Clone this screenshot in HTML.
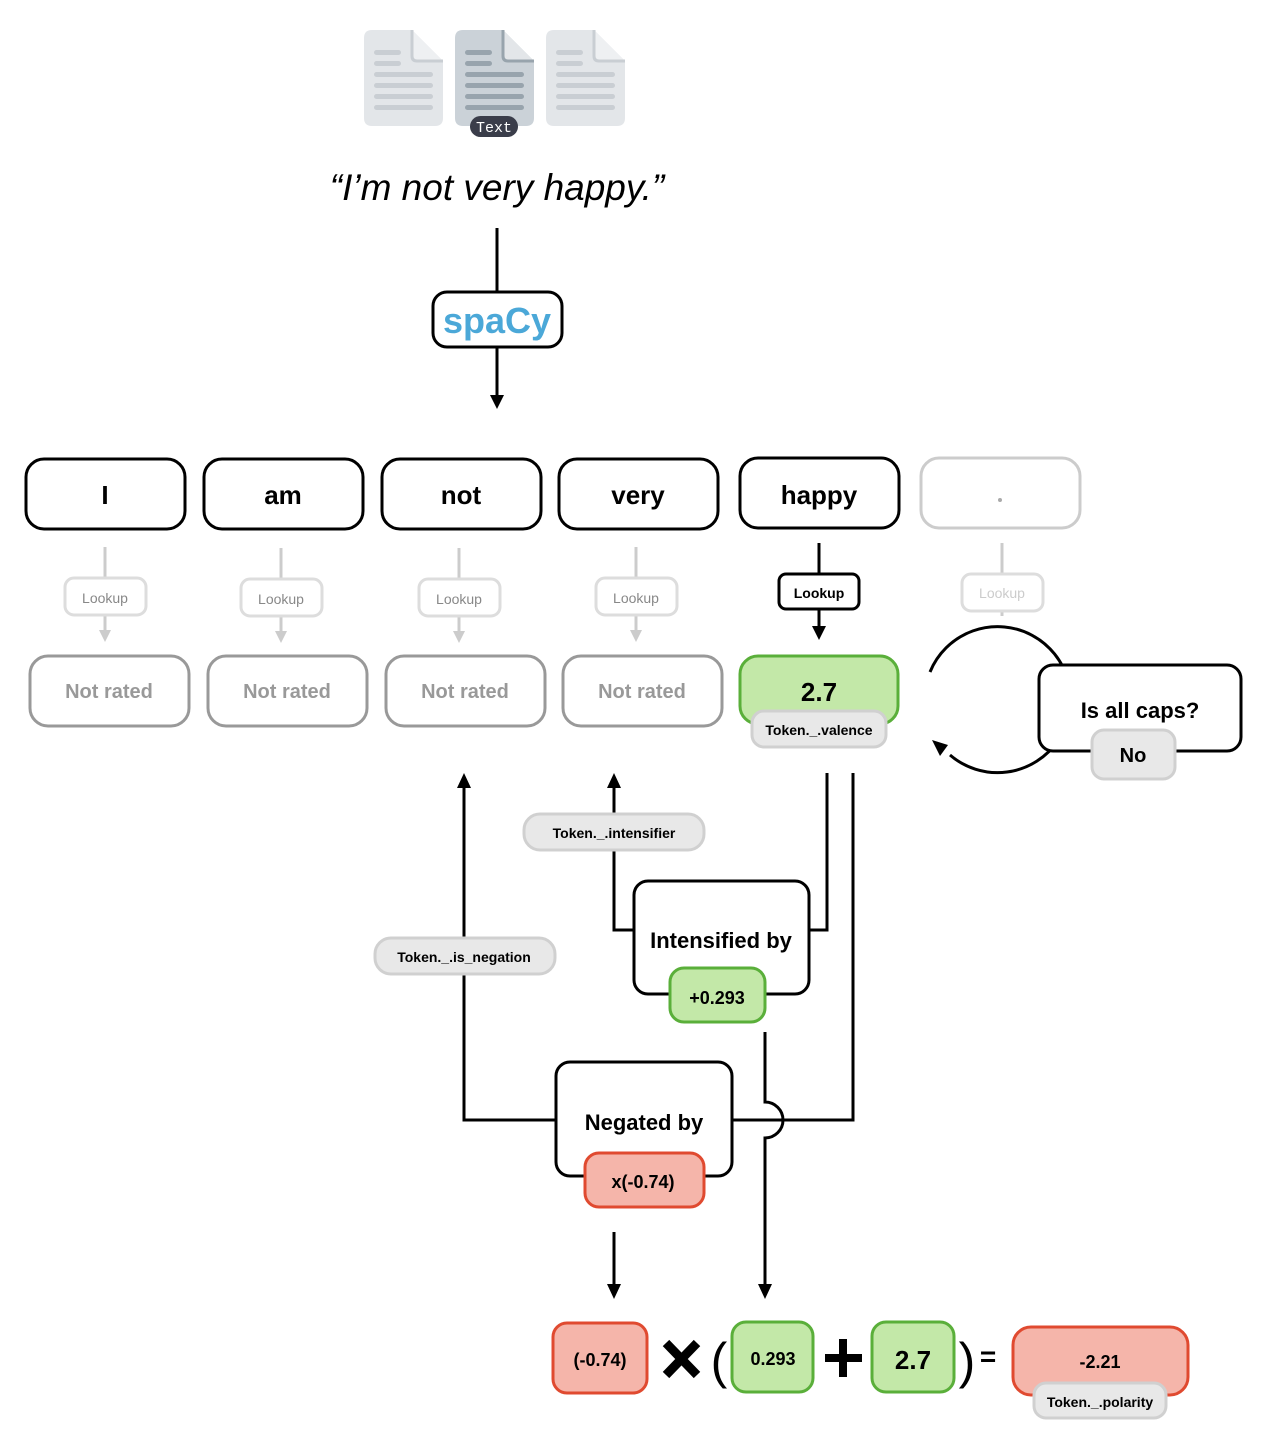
<!DOCTYPE html>
<html><head><meta charset="utf-8"><style>
body{margin:0;background:#fff}
svg{display:block}
text{font-family:"Liberation Sans",sans-serif}
</style></head><body>
<svg width="1266" height="1440" viewBox="0 0 1266 1440" xmlns="http://www.w3.org/2000/svg">
<defs>
<marker id="ab" markerWidth="14" markerHeight="14" refX="7" refY="7" orient="auto" markerUnits="userSpaceOnUse"><path d="M0,0 L14,7 L0,14 z" fill="#000"/></marker>
<marker id="ag" markerWidth="12" markerHeight="12" refX="6" refY="6" orient="auto" markerUnits="userSpaceOnUse"><path d="M0,0 L12,6 L0,12 z" fill="#ccc"/></marker>
</defs>
<g>
<path d="M372,30 H412 L443,61 V118 Q443,126 435,126 H372 Q364,126 364,118 V38 Q364,30 372,30z" fill="#e3e6e9"/>
<path d="M412,30 V56 Q412,61 417,61 H443" fill="#eef0f2" stroke="#c9ced3" stroke-width="3"/>
<g fill="#c9ced3"><rect x="374" y="50" width="27" height="5" rx="2.5"/><rect x="374" y="61" width="27" height="5" rx="2.5"/><rect x="374" y="72" width="59" height="5" rx="2.5"/><rect x="374" y="83" width="59" height="5" rx="2.5"/><rect x="374" y="94" width="59" height="5" rx="2.5"/><rect x="374" y="105" width="59" height="5" rx="2.5"/></g>
<path d="M463,30 H503 L534,61 V118 Q534,126 526,126 H463 Q455,126 455,118 V38 Q455,30 463,30z" fill="#cbd2d8"/>
<path d="M503,30 V56 Q503,61 508,61 H534" fill="#e3e6e9" stroke="#98a4ad" stroke-width="3"/>
<g fill="#98a4ad"><rect x="465" y="50" width="27" height="5" rx="2.5"/><rect x="465" y="61" width="27" height="5" rx="2.5"/><rect x="465" y="72" width="59" height="5" rx="2.5"/><rect x="465" y="83" width="59" height="5" rx="2.5"/><rect x="465" y="94" width="59" height="5" rx="2.5"/><rect x="465" y="105" width="59" height="5" rx="2.5"/></g>
<path d="M554,30 H594 L625,61 V118 Q625,126 617,126 H554 Q546,126 546,118 V38 Q546,30 554,30z" fill="#e3e6e9"/>
<path d="M594,30 V56 Q594,61 599,61 H625" fill="#eef0f2" stroke="#c9ced3" stroke-width="3"/>
<g fill="#c9ced3"><rect x="556" y="50" width="27" height="5" rx="2.5"/><rect x="556" y="61" width="27" height="5" rx="2.5"/><rect x="556" y="72" width="59" height="5" rx="2.5"/><rect x="556" y="83" width="59" height="5" rx="2.5"/><rect x="556" y="94" width="59" height="5" rx="2.5"/><rect x="556" y="105" width="59" height="5" rx="2.5"/></g>
<rect x="470" y="116" width="48" height="21" rx="10.5" fill="#3a3d4a"/>
<text x="494" y="132" font-size="15" fill="#fff" text-anchor="middle" style="font-family:'Liberation Mono',monospace">Text</text>
</g>
<text x="497" y="200" font-size="37" font-style="italic" text-anchor="middle">“I’m not very happy.”</text>
<line x1="497" y1="228" x2="497" y2="292" stroke="#000" stroke-width="3"/>
<rect x="433" y="292" width="129" height="55" rx="14" fill="#fff" stroke="#000" stroke-width="3"/>
<text x="497" y="333" font-size="36" font-weight="bold" fill="#4ba8d8" text-anchor="middle">spaCy</text>
<line x1="497" y1="347" x2="497" y2="402" stroke="#000" stroke-width="3" marker-end="url(#ab)"/>
<g stroke="#000" stroke-width="3" fill="#fff">
<rect x="26" y="459" width="159" height="70" rx="18"/>
<rect x="204" y="459" width="159" height="70" rx="18"/>
<rect x="382" y="459" width="159" height="70" rx="18"/>
<rect x="559" y="459" width="159" height="70" rx="18"/>
<rect x="740" y="458" width="159" height="70" rx="18"/>
</g>
<rect x="921" y="458" width="159" height="70" rx="18" fill="#fff" stroke="#ccc" stroke-width="3"/>
<g font-size="26" font-weight="bold" text-anchor="middle">
<text x="105" y="504">I</text><text x="283" y="504">am</text><text x="461" y="504">not</text><text x="638" y="504">very</text><text x="819" y="504">happy</text>
</g>
<circle cx="1000" cy="500" r="2" fill="#aaa"/>
<g stroke="#ccc" stroke-width="3">
<line x1="105" y1="547" x2="105" y2="578"/><line x1="105" y1="615" x2="105" y2="636" marker-end="url(#ag)"/>
<line x1="281" y1="548" x2="281" y2="579"/><line x1="281" y1="616" x2="281" y2="637" marker-end="url(#ag)"/>
<line x1="459" y1="548" x2="459" y2="579"/><line x1="459" y1="616" x2="459" y2="637" marker-end="url(#ag)"/>
<line x1="636" y1="547" x2="636" y2="578"/><line x1="636" y1="615" x2="636" y2="636" marker-end="url(#ag)"/>
<line x1="1002" y1="543" x2="1002" y2="574"/><line x1="1002" y1="611" x2="1002" y2="616"/>
</g>
<g fill="#fff" stroke="#ddd" stroke-width="3">
<rect x="65" y="578" width="81" height="37" rx="9"/><rect x="241" y="579" width="81" height="37" rx="9"/><rect x="419" y="579" width="81" height="37" rx="9"/><rect x="596" y="578" width="81" height="37" rx="9"/><rect x="962" y="574" width="81" height="37" rx="9"/>
</g>
<g font-size="14" fill="#888" text-anchor="middle">
<text x="105" y="603">Lookup</text><text x="281" y="604">Lookup</text><text x="459" y="604">Lookup</text><text x="636" y="603">Lookup</text><text x="1002" y="598" fill="#ccc">Lookup</text>
</g>
<line x1="819" y1="543" x2="819" y2="574" stroke="#000" stroke-width="3"/>
<rect x="779" y="574" width="80" height="35" rx="7" fill="#fff" stroke="#000" stroke-width="3"/>
<text x="819" y="598" font-size="14" font-weight="bold" text-anchor="middle">Lookup</text>
<line x1="819" y1="609" x2="819" y2="633" stroke="#000" stroke-width="3" marker-end="url(#ab)"/>
<g fill="#fff" stroke="#999" stroke-width="3">
<rect x="30" y="656" width="159" height="70" rx="18"/><rect x="208" y="656" width="159" height="70" rx="18"/><rect x="386" y="656" width="159" height="70" rx="18"/><rect x="563" y="656" width="159" height="70" rx="18"/>
</g>
<g font-size="20" font-weight="bold" fill="#999" text-anchor="middle">
<text x="109" y="698">Not rated</text><text x="287" y="698">Not rated</text><text x="465" y="698">Not rated</text><text x="642" y="698">Not rated</text>
</g>
<rect x="740" y="656" width="158" height="68" rx="18" fill="#c3e8a8" stroke="#5aaf3a" stroke-width="3"/>
<text x="819" y="701" font-size="26" font-weight="bold" text-anchor="middle">2.7</text>
<rect x="752" y="711" width="134" height="36" rx="12" fill="#e8e8e8" stroke="#d0d0d0" stroke-width="3"/>
<text x="819" y="735" font-size="14" font-weight="bold" text-anchor="middle">Token._.valence</text>
<path d="M930,672 A73,73 0 1 1 950,755" fill="none" stroke="#000" stroke-width="3"/>
<path d="M932,740 L948,745 L940,756 z" fill="#000"/>
<rect x="1039" y="665" width="202" height="86" rx="14" fill="#fff" stroke="#000" stroke-width="3"/>
<text x="1140" y="718" font-size="22" font-weight="bold" text-anchor="middle">Is all caps?</text>
<rect x="1092" y="730" width="83" height="49" rx="12" fill="#e8e8e8" stroke="#d0d0d0" stroke-width="3"/>
<text x="1133" y="762" font-size="20" font-weight="bold" text-anchor="middle">No</text>
<g stroke="#000" stroke-width="3" fill="none">
<polyline points="634,930 614,930 614,783"/>
<polyline points="810,930 827,930 827,773"/>
<polyline points="556,1120 464,1120 464,783"/>
<path d="M853,773 V1120 H733"/>
<path d="M765,1032 V1102 A18,18 0 0 1 765,1138 V1288"/>
<line x1="614" y1="1232" x2="614" y2="1288"/>
</g>
<path d="M607,788 L614,773 L621,788z M457,788 L464,773 L471,788z M607,1284 L614,1299 L621,1284z M758,1284 L765,1299 L772,1284z" fill="#000"/>
<rect x="524" y="814" width="180" height="36" rx="16" fill="#e8e8e8" stroke="#d0d0d0" stroke-width="3"/>
<text x="614" y="838" font-size="14" font-weight="bold" text-anchor="middle">Token._.intensifier</text>
<rect x="375" y="938" width="180" height="36" rx="16" fill="#e8e8e8" stroke="#d0d0d0" stroke-width="3"/>
<text x="464" y="962" font-size="14" font-weight="bold" text-anchor="middle">Token._.is_negation</text>
<rect x="634" y="881" width="175" height="113" rx="14" fill="#fff" stroke="#000" stroke-width="3"/>
<text x="721" y="948" font-size="22" font-weight="bold" text-anchor="middle">Intensified by</text>
<rect x="670" y="968" width="95" height="54" rx="14" fill="#c3e8a8" stroke="#5aaf3a" stroke-width="3"/>
<text x="717" y="1004" font-size="18" font-weight="bold" text-anchor="middle">+0.293</text>
<rect x="556" y="1062" width="176" height="114" rx="14" fill="#fff" stroke="#000" stroke-width="3"/>
<text x="644" y="1130" font-size="22" font-weight="bold" text-anchor="middle">Negated by</text>
<rect x="585" y="1153" width="119" height="54" rx="14" fill="#f5b5aa" stroke="#e04a30" stroke-width="3"/>
<text x="643" y="1188" font-size="18" font-weight="bold" text-anchor="middle">x(-0.74)</text>
<rect x="553" y="1323" width="94" height="70" rx="14" fill="#f5b5aa" stroke="#e04a30" stroke-width="3"/>
<text x="600" y="1366" font-size="18" font-weight="bold" text-anchor="middle">(-0.74)</text>
<path d="M666,1343 L697,1375 M697,1343 L666,1375" stroke="#000" stroke-width="9"/>
<text x="719" y="1378" font-size="50" text-anchor="middle">(</text>
<rect x="732" y="1322" width="81" height="70" rx="14" fill="#c3e8a8" stroke="#5aaf3a" stroke-width="3"/>
<text x="773" y="1365" font-size="18" font-weight="bold" text-anchor="middle">0.293</text>
<path d="M825,1358 H862 M843,1339 V1377" stroke="#000" stroke-width="8"/>
<rect x="872" y="1322" width="82" height="70" rx="14" fill="#c3e8a8" stroke="#5aaf3a" stroke-width="3"/>
<text x="913" y="1369" font-size="26" font-weight="bold" text-anchor="middle">2.7</text>
<text x="967" y="1378" font-size="50" text-anchor="middle">)</text>
<text x="988" y="1366" font-size="28" font-weight="bold" text-anchor="middle">=</text>
<rect x="1013" y="1327" width="175" height="68" rx="18" fill="#f5b5aa" stroke="#e04a30" stroke-width="3"/>
<text x="1100" y="1368" font-size="18" font-weight="bold" text-anchor="middle">-2.21</text>
<rect x="1034" y="1383" width="132" height="35" rx="12" fill="#e8e8e8" stroke="#d0d0d0" stroke-width="3"/>
<text x="1100" y="1407" font-size="14" font-weight="bold" text-anchor="middle">Token._.polarity</text>
</svg>
</body></html>
